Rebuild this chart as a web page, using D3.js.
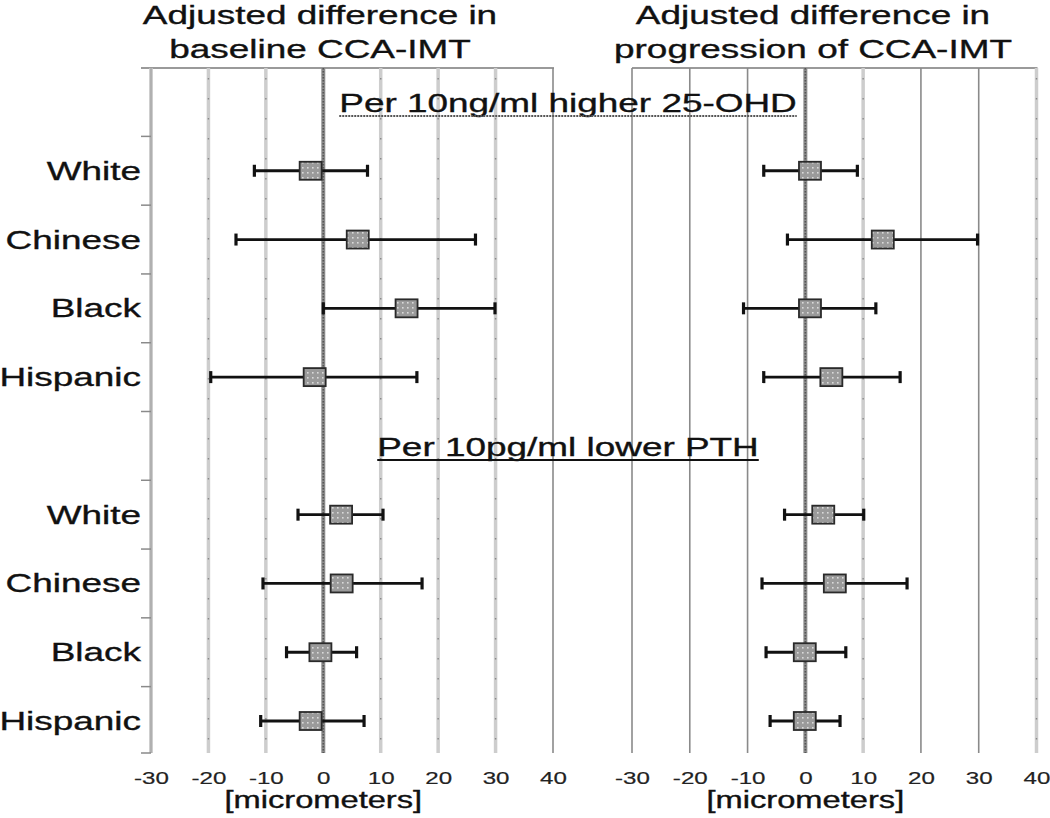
<!DOCTYPE html>
<html><head><meta charset="utf-8">
<script src="https://cdn.jsdelivr.net/npm/d3@7"></script>
<style>
body{margin:0;background:#fff}
svg{display:block;font-family:"Liberation Sans",Arial,sans-serif}
</style>
</head><body>
<svg id="c" width="1050" height="818"></svg>
<script>
// ---------------- data ----------------
const categories = ["White", "Chinese", "Black", "Hispanic"];
const groupHeaders = ["Per 10ng/ml higher 25-OHD", "Per 10pg/ml lower PTH"];
const panelTitles = [["Adjusted difference in", "baseline CCA-IMT"], ["Adjusted difference in", "progression of CCA-IMT"]];
const tickValues = [-30, -20, -10, 0, 10, 20, 30, 40];
const axisLabel = "[micrometers]";

// baseline CCA-IMT, per 10 ng/ml higher 25-OHD
const base25Est = [-2.2, 6.0, 14.5, -1.5];
const base25Lo  = [-12.0, -15.2, 0.0, -19.6];
const base25Hi  = [7.7, 26.5, 29.9, 16.3];
// baseline CCA-IMT, per 10 pg/ml lower PTH
const basePTHEst = [3.1, 3.2, -0.5, -2.2];
const basePTHLo  = [-4.4, -10.5, -6.4, -10.9];
const basePTHHi  = [10.4, 17.2, 5.8, 7.1];
// progression of CCA-IMT, per 10 ng/ml higher 25-OHD
const prog25Est = [0.8, 13.4, 0.8, 4.5];
const prog25Lo  = [-7.2, -3.1, -10.7, -7.2];
const prog25Hi  = [9.0, 29.8, 12.2, 16.4];
// progression of CCA-IMT, per 10 pg/ml lower PTH
const progPTHEst = [3.1, 5.1, -0.1, -0.1];
const progPTHLo  = [-3.6, -7.5, -6.8, -6.1];
const progPTHHi  = [10.1, 17.6, 7.0, 6.0];

// ---------------- layout ----------------
const SX = 1.42; // horizontal stretch of the original picture
const svg = d3.select("#c");
const defs = svg.append("defs");
const pat = defs.append("pattern").attr("id", "dots").attr("width", 5).attr("height", 5)
  .attr("patternUnits", "userSpaceOnUse");
pat.append("rect").attr("width", 5).attr("height", 5).attr("fill", "#9a9a9a");
pat.append("rect").attr("x", 2).attr("y", 2).attr("width", 1.6).attr("height", 1.6).attr("fill", "#dadada");

const rowKeys = [];
groupHeaders.forEach((h, gi) => {
  rowKeys.push("h" + gi);
  categories.forEach((c, ci) => rowKeys.push(gi + "-" + ci));
});
const y = d3.scaleBand().domain(rowKeys).range([67.6, 755.4]).padding(0);
const yc = k => y(k) + y.bandwidth() / 2;
const yTop = 68, yBot = 753;

const panels = [
  { x: d3.scaleLinear().domain([-30, 40]).range([151, 553]),
    groups: [[base25Est, base25Lo, base25Hi], [basePTHEst, basePTHLo, basePTHHi]],
    gridStyle: { "-30": "light", "-20": "light", "-10": "light", "0": "zero", "10": "light", "20": "light", "30": "light", "40": "dark" },
    titleX: 320, borderLeft: 141 },
  { x: d3.scaleLinear().domain([-30, 40]).range([632, 1036.5]),
    groups: [[prog25Est, prog25Lo, prog25Hi], [progPTHEst, progPTHLo, progPTHHi]],
    gridStyle: { "-30": "dark", "-20": "dark", "-10": "dark", "0": "zero", "10": "light", "20": "dark", "30": "dark", "40": "light" },
    titleX: 813, borderLeft: 632 }
];

function stext(g, x, yy, str, size, anchor, fill) {
  return g.append("text")
    .attr("transform", `translate(${x},${yy}) scale(${SX},1)`)
    .attr("text-anchor", anchor || "middle")
    .attr("font-size", size)
    .attr("fill", fill || "#000")
    .attr("stroke", fill || "#000").attr("stroke-width", 0.35)
    .text(str);
}

panels.forEach((p, pi) => {
  const g = svg.append("g");
  const x = p.x;
  // titles
  stext(g, p.titleX, 24, panelTitles[pi][0], 26, "middle", "#111");
  stext(g, p.titleX, 58, panelTitles[pi][1], 26, "middle", "#111");
  // top border
  g.append("line").attr("x1", p.borderLeft).attr("x2", x(40) + 1).attr("y1", yTop).attr("y2", yTop)
    .attr("stroke", "#9a9a9a").attr("stroke-width", 2);
  // gridlines
  const grid = g.append("g");
  tickValues.forEach(t => {
    const st = p.gridStyle[String(t)];
    const gx = x(t);
    if (st === "light") {
      grid.append("line").attr("x1", gx).attr("x2", gx).attr("y1", yTop).attr("y2", yBot)
        .attr("stroke", "#cdcdcd").attr("stroke-width", 3.5);
      grid.append("line").attr("x1", gx).attr("x2", gx).attr("y1", yTop + 10).attr("y2", yBot)
        .attr("stroke", "#8a8a8a").attr("stroke-width", 1.4).attr("stroke-dasharray", "1.5 18.5");
    } else if (st === "dark") {
      grid.append("line").attr("x1", gx).attr("x2", gx).attr("y1", yTop).attr("y2", yBot)
        .attr("stroke", "#8a8a8a").attr("stroke-width", 1.6);
    }
  });
  // left y axis ticks (left panel only)
  if (pi === 0) {
    const bounds = rowKeys.map(k => y(k)).slice(1).concat([yBot]);
    g.append("line").attr("x1", x(-30)).attr("x2", x(-30)).attr("y1", yTop).attr("y2", yBot)
      .attr("stroke", "#b0b0b0").attr("stroke-width", 2.5);
    g.selectAll(".yt").data(bounds).join("line").attr("class", "yt")
      .attr("x1", x(-30) - 10).attr("x2", x(-30)).attr("y1", d => d).attr("y2", d => d)
      .attr("stroke", "#8a8a8a").attr("stroke-width", 1.5);
    // category labels
    groupHeaders.forEach((h, gi) => {
      categories.forEach((c, ci) => {
        stext(g, 141, yc(gi + "-" + ci) + 9, c, 26, "end", "#111");
      });
    });
  }
  // zero line
  g.append("line").attr("x1", x(0)).attr("x2", x(0)).attr("y1", yTop).attr("y2", yBot)
    .attr("stroke", "#8c8c8c").attr("stroke-width", 4);
  g.append("line").attr("x1", x(0)).attr("x2", x(0)).attr("y1", yTop).attr("y2", yBot)
    .attr("stroke", "#555").attr("stroke-width", 1.6).attr("stroke-dasharray", "1.5 1.5");

  // x axis tick labels
  const ax = g.append("g").attr("transform", `translate(0,${772})`)
    .call(d3.axisBottom(x).tickValues(tickValues).tickSize(0).tickPadding(0).tickFormat(d => String(d)));
  ax.select(".domain").remove();
  ax.selectAll("text").attr("font-size", 17).attr("fill", "#222")
    .attr("font-family", "Liberation Sans, Arial, sans-serif")
    .attr("stroke", "#222").attr("stroke-width", 0.2)
    .attr("transform", `scale(${SX},1)`);
  stext(g, x(0), 808, axisLabel, 23, "middle", "#111");

  // error bars
  p.groups.forEach((arrs, gi) => {
    const [est, lo, hi] = arrs;
    const data = categories.map((c, ci) => ({ k: gi + "-" + ci, est: est[ci], lo: lo[ci], hi: hi[ci] }));
    const eg = g.append("g");
    eg.selectAll(".bar").data(data).join("line").attr("class", "bar")
      .attr("x1", d => x(d.lo)).attr("x2", d => x(d.hi)).attr("y1", d => yc(d.k)).attr("y2", d => yc(d.k))
      .attr("stroke", "#111").attr("stroke-width", 2.8);
    eg.selectAll(".capl").data(data).join("line").attr("class", "capl")
      .attr("x1", d => x(d.lo)).attr("x2", d => x(d.lo)).attr("y1", d => yc(d.k) - 6).attr("y2", d => yc(d.k) + 6)
      .attr("stroke", "#111").attr("stroke-width", 3.2);
    eg.selectAll(".caph").data(data).join("line").attr("class", "caph")
      .attr("x1", d => x(d.hi)).attr("x2", d => x(d.hi)).attr("y1", d => yc(d.k) - 6).attr("y2", d => yc(d.k) + 6)
      .attr("stroke", "#111").attr("stroke-width", 3.2);
    eg.selectAll(".sq").data(data).join("rect").attr("class", "sq")
      .attr("x", d => x(d.est) - 11).attr("y", d => yc(d.k) - 9).attr("width", 22).attr("height", 18)
      .attr("fill", "url(#dots)").attr("stroke", "#2a2a2a").attr("stroke-width", 1.8);
  });
});

// group headers (span both panels)
const hx = 568;
groupHeaders.forEach((h, gi) => {
  const cy = yc("h" + gi);
  const t = stext(svg, hx, cy + 10, h, 26, "middle", "#111");
  const w = t.node().getComputedTextLength() * SX;
  svg.append("line").attr("x1", hx - w / 2).attr("x2", hx + w / 2)
    .attr("y1", cy + 14).attr("y2", cy + 14)
    .attr("stroke", gi === 0 ? "#555" : "#111").attr("stroke-width", 2)
    .attr("stroke-dasharray", gi === 0 ? "2 1" : null);
});
</script>
</body></html>
